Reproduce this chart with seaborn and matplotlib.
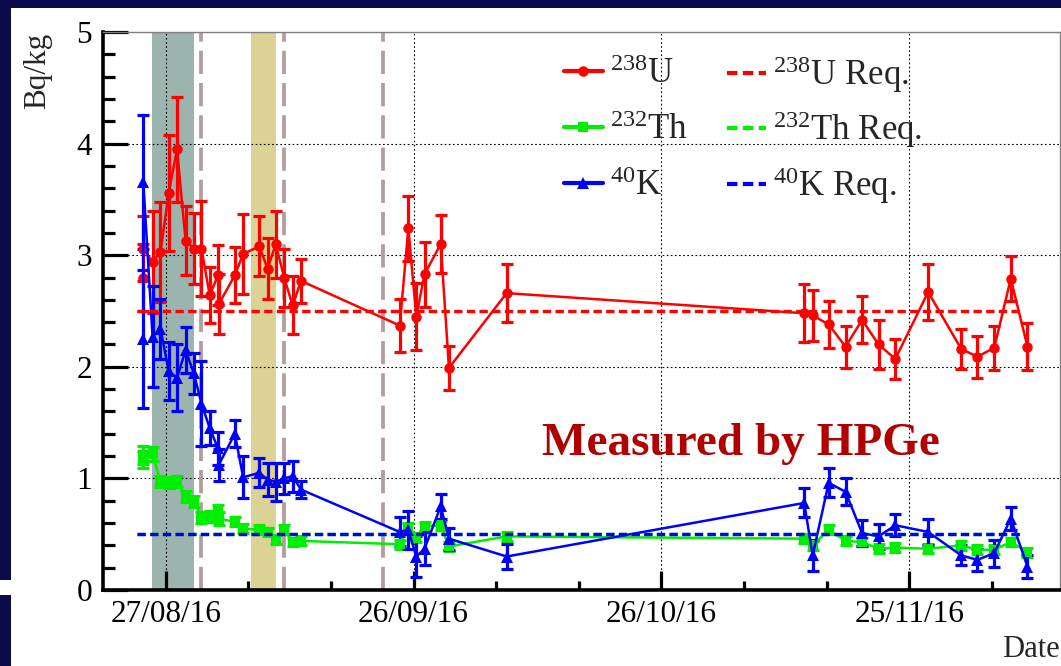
import numpy as np
import pandas as pd
import matplotlib
matplotlib.use("Agg")
import matplotlib.pyplot as plt
from matplotlib.patches import Rectangle
from matplotlib.ticker import MultipleLocator, FixedLocator
import matplotlib.dates as mdates
import seaborn as sns

# ---------------- data ----------------
dates = [
    "2016-08-24 07:00", "2016-08-24 07:00", "2016-08-25 10:00", "2016-08-26 09:00",
    "2016-08-27 09:00", "2016-08-28 09:00", "2016-08-29 10:00", "2016-08-30 10:00",
    "2016-08-31 08:00", "2016-09-01 08:00", "2016-09-02 08:00", "2016-09-02 10:00",
    "2016-09-04 09:00", "2016-09-05 09:00", "2016-09-07 08:00", "2016-09-08 08:00",
    "2016-09-09 08:00", "2016-09-10 08:00", "2016-09-11 09:00", "2016-09-12 09:00",
    "2016-09-24 08:00", "2016-09-25 09:00", "2016-09-26 08:00", "2016-09-27 08:00",
    "2016-09-29 07:00", "2016-09-30 07:00", "2016-10-07 06:30", "2016-11-12 07:00",
    "2016-11-13 07:30", "2016-11-15 06:00", "2016-11-17 07:00", "2016-11-19 07:00",
    "2016-11-21 07:00", "2016-11-23 07:30", "2016-11-27 07:00", "2016-12-01 07:00",
    "2016-12-03 06:00", "2016-12-05 07:00", "2016-12-07 07:00", "2016-12-09 07:30",
]
u238 = [2.80, 3.06, 2.94, 3.03, 3.56, 3.95, 3.13, 3.06, 3.06, 2.64,
        2.82, 2.56, 2.82, 3.01, 3.08, 2.88, 3.10, 2.80, 2.55, 2.77,
        2.37, 3.24, 2.45, 2.83, 3.10, 1.99, 2.66,
        2.48, 2.46, 2.38, 2.18, 2.42, 2.20, 2.07, 2.67, 2.16, 2.09, 2.17, 2.79, 2.18]
u238_err = [0.30, 0.29, 0.46, 0.45, 0.52, 0.47, 0.31, 0.32, 0.43, 0.25,
            0.27, 0.27, 0.25, 0.36, 0.27, 0.27, 0.30, 0.26, 0.26, 0.20,
            0.24, 0.29, 0.30, 0.29, 0.26, 0.20, 0.26,
            0.26, 0.23, 0.21, 0.19, 0.21, 0.22, 0.18, 0.25, 0.18, 0.19, 0.20, 0.20, 0.21]
th232 = [1.17, 1.21, 1.22, 0.97, 0.96, 0.97, 0.84, 0.79, 0.65, 0.66,
         0.70, 0.64, 0.61, 0.55, 0.54, 0.52, 0.45, 0.54, 0.43, 0.44,
         0.41, 0.56, 0.47, 0.57, 0.58, 0.39, 0.48,
         0.46, 0.40, 0.54, 0.44, 0.43, 0.37, 0.38, 0.37, 0.40, 0.36, 0.36, 0.43, 0.34]
th232_err = [0.08, 0.08, 0.06, 0.05, 0.05, 0.05, 0.05, 0.05, 0.05, 0.05,
             0.06, 0.06, 0.04, 0.04, 0.04, 0.04, 0.04, 0.04, 0.04, 0.04,
             0.04, 0.04, 0.04, 0.04, 0.04, 0.04, 0.04,
             0.04, 0.04, 0.04, 0.04, 0.04, 0.04, 0.04, 0.04, 0.04, 0.04, 0.04, 0.04, 0.04]
k40 = [2.25, 3.66, 2.27, 2.34, 1.96, 1.90, 2.15, 1.94, 1.67, 1.45,
       1.27, 1.12, 1.40, 1.01, 1.05, 0.99, 0.97, 1.00, 1.02, 0.90,
       0.52, 0.54, 0.30, 0.37, 0.75, 0.46, 0.30,
       0.78, 0.31, 0.96, 0.88, 0.51, 0.48, 0.58, 0.52, 0.31, 0.27, 0.33, 0.64, 0.21]
k40_err = [0.62, 0.60, 0.45, 0.27, 0.26, 0.30, 0.21, 0.18, 0.38, 0.15,
           0.15, 0.14, 0.12, 0.19, 0.13, 0.15, 0.17, 0.14, 0.14, 0.08,
           0.13, 0.17, 0.18, 0.15, 0.11, 0.10, 0.11,
           0.13, 0.14, 0.13, 0.12, 0.12, 0.11, 0.10, 0.12, 0.09, 0.10, 0.12, 0.10, 0.10]

req_values = [2.5, 0.5, 0.5]            # U, Th, K requirements (Bq/kg)
req_span = ["2016-08-23 12:00", "2016-12-08 19:00"]
band_teal = ["2016-08-25 07:30", "2016-08-30 10:00"]
band_yellow = ["2016-09-06 07:00", "2016-09-09 10:00"]
vlines = ["2016-08-31 07:00", "2016-09-10 07:00", "2016-09-22 07:30"]
xtick_dates = ["2016-08-27", "2016-09-26", "2016-10-26", "2016-11-25"]
xtick_labels = ["27/08/16", "26/09/16", "26/10/16", "25/11/16"]
xlim = ["2016-08-19 10:00", "2016-12-13 06:00"]
series_labels = [r"$^{\mathrm{238}}$U", r"$^{\mathrm{232}}$Th", r"$^{\mathrm{40}}$K"]
req_labels = [r"$^{\mathrm{238}}$U Req.", r"$^{\mathrm{232}}$Th Req.", r"$^{\mathrm{40}}$K Req."]

# ---------------- style ----------------
sns.set_style("white")
plt.rcParams["font.family"] = ["Liberation Serif", "DejaVu Serif"]
plt.rcParams["mathtext.fontset"] = "custom"
plt.rcParams["mathtext.rm"] = "Liberation Serif"
plt.rcParams["mathtext.it"] = "Liberation Serif:italic"
plt.rcParams["mathtext.bf"] = "Liberation Serif:bold"

df = pd.DataFrame({
    "date": pd.to_datetime(dates),
    "U": u238, "U_err": u238_err,
    "Th": th232, "Th_err": th232_err,
    "K": k40, "K_err": k40_err,
})

W, H = 1061, 666
fig = plt.figure(figsize=(W / 100, H / 100), dpi=100)
fig.patch.set_facecolor("white")
ax = fig.add_axes([103 / W, (H - 590) / H, 957 / W, 558 / H])

navy = "#0b0b4c"
fig.add_artist(Rectangle((0, 1 - 7.5 / H), 1, 7.5 / H, transform=fig.transFigure,
                         facecolor=navy, edgecolor="none"))
fig.add_artist(Rectangle((0, (H - 580) / H), 11 / W, 580 / H, transform=fig.transFigure,
                         facecolor=navy, edgecolor="none"))
fig.add_artist(Rectangle((0, 0), 11 / W, (H - 595) / H, transform=fig.transFigure,
                         facecolor=navy, edgecolor="none"))

# shaded bands and vertical markers
ax.axvspan(pd.Timestamp(band_teal[0]), pd.Timestamp(band_teal[1]),
           facecolor="#9bb4ad", edgecolor="none", zorder=0.2)
ax.axvspan(pd.Timestamp(band_yellow[0]), pd.Timestamp(band_yellow[1]),
           facecolor="#dad395", edgecolor="none", zorder=0.2)
for v in vlines:
    ax.axvline(pd.Timestamp(v), color="#b39c9c", lw=2.7, ls=(0, (6.2, 2.4)), zorder=1)

# data series
styles = [("U", "#ff0000", "o", 7.5), ("Th", "#00ee00", "s", 7.0), ("K", "#0000ff", "^", 8.0)]
for (col, color, marker, ms), label in zip(styles, series_labels):
    ax.errorbar(df["date"], df[col], yerr=df[col + "_err"], fmt="none", ecolor=color,
                elinewidth=2.3, capsize=4.3, capthick=2.3, zorder=3)
    sns.lineplot(data=df, x="date", y=col, estimator=None, sort=False, color=color,
                 marker=marker, markersize=ms, markeredgewidth=0, linewidth=1.8,
                 label=label, ax=ax, zorder=4)

# requirement lines
req_x = pd.to_datetime(req_span)
for (col, color, marker, ms), val, label in zip(styles, req_values, req_labels):
    ax.plot(req_x, [val, val], color=color, lw=2.4, ls=(0, (2.5, 1.3)), label=label, zorder=5)

# axes
ax.set_xlim(pd.Timestamp(xlim[0]), pd.Timestamp(xlim[1]))
ax.set_ylim(0, 5)
ax.set_xlabel("")
ax.set_ylabel("")
ax.xaxis.set_major_locator(FixedLocator(mdates.date2num(pd.to_datetime(xtick_dates))))
ax.set_xticklabels(xtick_labels)
minor_x = pd.date_range(xtick_dates[0], xlim[1], freq="10D")
ax.xaxis.set_minor_locator(FixedLocator(mdates.date2num(minor_x)))
ax.yaxis.set_major_locator(MultipleLocator(1))
ax.yaxis.set_minor_locator(MultipleLocator(0.2))
ax.set_yticks([0, 1, 2, 3, 4, 5])
ax.set_yticklabels(["0", "1", "2", "3", "4", "5"])

ax.tick_params(axis="both", which="both", direction="in", top=False, right=False,
               labelsize=22.5, colors="black")
ax.tick_params(axis="y", which="major", length=18, width=2.3, pad=8, left=True)
ax.tick_params(axis="y", which="minor", length=8.6, width=2.3, left=True)
ax.tick_params(axis="x", which="major", length=13.7, width=2.3, pad=7, bottom=True)
ax.tick_params(axis="x", which="minor", length=6.5, width=2.3, bottom=True)

ax.grid(True, which="major", color="black", linestyle=(0, (1.5, 2.2)), linewidth=0.8)
ax.set_axisbelow(True)

for side in ["left", "bottom"]:
    ax.spines[side].set_linewidth(2.6)
    ax.spines[side].set_color("black")
for side in ["top", "right"]:
    ax.spines[side].set_linewidth(1.0)
    ax.spines[side].set_color("#808080")

# labels
fig.text(38 / W, 1 - 33 / H, "Bq/kg", rotation=90, ha="center", va="top", fontsize=22.5)
fig.text(1001.7 / W, (H - 656.7) / H, "Date", ha="left", va="baseline", fontsize=22)
ax.text(0.4584, 0.2419, "Measured by HPGe", transform=ax.transAxes, fontsize=34,
        fontweight="bold", color="#b00000", ha="left", va="baseline", zorder=6)

# legend: two columns, built as two legends so the rows line up
handles, labels = ax.get_legend_handles_labels()
common = dict(loc="upper left", bbox_transform=fig.transFigure, frameon=False,
              fontsize=25, handlelength=1.115, handletextpad=0.2,
              borderpad=0, borderaxespad=0)
leg1 = ax.legend(handles[:3], labels[:3], bbox_to_anchor=(564 / W, 1 - 58 / H),
                 labelspacing=0.66, **common)
for ln in leg1.get_lines():
    ln.set_linewidth(3.0)
ax.add_artist(leg1)
leg2 = ax.legend(handles[3:], labels[3:], bbox_to_anchor=(727 / W, 1 - 54 / H),
                 labelspacing=0.43, **common)
for ln in leg2.get_lines():
    ln.set_linewidth(3.0)

fig.savefig("out.png", dpi=100, facecolor=fig.get_facecolor())
